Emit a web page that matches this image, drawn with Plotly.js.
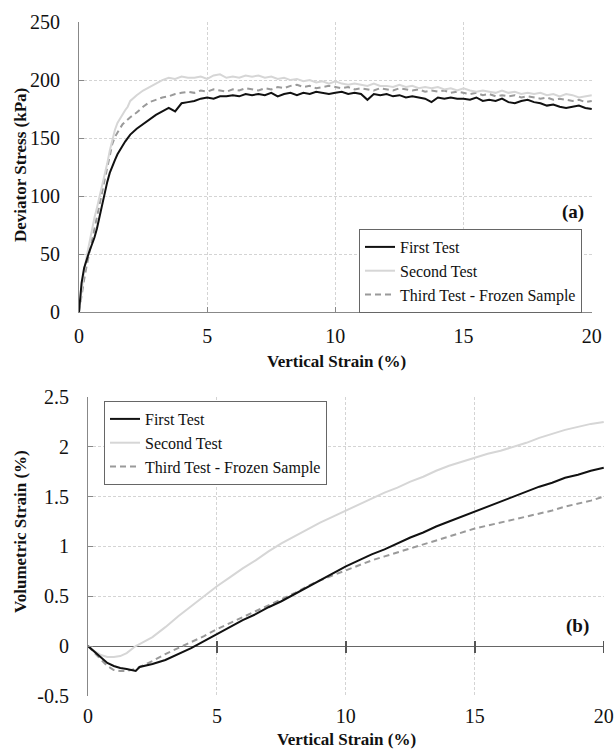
<!DOCTYPE html>
<html>
<head>
<meta charset="utf-8">
<script src="https://cdn.plot.ly/plotly-3.0.1.min.js"></script>
<style>html,body{margin:0;padding:0;background:#fff;}#chart{width:616px;height:751px;}</style>
</head>
<body>
<div id="chart"></div>
<script>
// ---------- Data: (a) deviator stress vs vertical strain ----------
const strainA = [0,0.1,0.2,0.3,0.4,0.5,0.6,0.7,0.8,0.9,1.0,1.1,1.2,1.3,1.4,1.5,1.6,1.7,1.8,1.9,2.0,
  2.25,2.5,2.75,3.0,3.25,3.5,3.75,4.0,4.25,4.5,4.75,5.0,5.25,5.5,5.75,6.0,6.25,6.5,6.75,7.0,7.25,7.5,7.75,
  8.0,8.25,8.5,8.75,9.0,9.25,9.5,9.75,10.0,10.25,10.5,10.75,11.0,11.25,11.5,11.75,12.0,12.25,12.5,12.75,
  13.0,13.25,13.5,13.75,14.0,14.25,14.5,14.75,15.0,15.25,15.5,15.75,16.0,16.25,16.5,16.75,17.0,17.25,17.5,17.75,
  18.0,18.25,18.5,18.75,19.0,19.25,19.5,19.75,20.0];
const stressFirst = [0,25,38,46,52,58,64,72,82,93,103,112,120,126,131,136,140,144,147,150,153,
  158,162,166,170,173,176,173,180,181,182,184,185,184,186,186,187,186,188,187,188,187,189,186,
  188,189,187,189,188,190,189,188,189,190,188,189,188,183,188,187,188,186,187,185,
  186,185,184,181,185,184,185,184,184,183,185,182,183,182,184,181,180,182,183,181,
  180,178,179,177,176,177,178,176,175];
const stressSecond = [0,20,36,48,60,72,81,90,99,108,117,128,139,149,157,163,167,171,174,177,182,
  187,191,194,197,200,202,201,203,202,202,203,201,204,205,202,203,202,204,203,204,202,203,201,
  202,200,201,199,200,198,199,197,199,197,196,197,196,195,197,195,195,194,196,194,
  195,193,194,193,194,192,193,191,193,191,190,191,190,189,191,189,190,188,189,188,
  189,187,188,186,188,187,185,186,187];
const stressThird = [0,15,28,40,50,60,70,80,91,103,114,124,133,145,151,155,159,162,164,166,168,
  172,177,181,183,185,186,188,189,190,189,191,190,192,191,190,192,191,193,192,191,193,192,194,
  193,195,196,194,195,193,194,195,194,193,194,192,193,192,191,193,192,191,193,192,
  191,192,190,191,190,191,189,190,189,188,189,187,188,186,187,186,187,185,186,185,
  184,185,183,184,183,182,183,181,182];

// ---------- Data: (b) volumetric strain vs vertical strain ----------
const strainB = [0,0.25,0.5,0.75,1,1.25,1.5,1.75,1.85,2,2.5,3,3.5,4,4.5,5,5.5,6,6.5,7,7.5,8,8.5,9,9.5,10,
  10.5,11,11.5,12,12.5,13,13.5,14,14.5,15,15.5,16,16.5,17,17.5,18,18.5,19,19.5,20];
const volFirst = [0,-0.06,-0.12,-0.17,-0.2,-0.22,-0.23,-0.24,-0.25,-0.21,-0.18,-0.14,-0.08,-0.02,0.05,0.12,0.19,0.26,0.32,0.39,0.45,0.52,0.59,0.66,0.73,0.8,
  0.86,0.92,0.97,1.03,1.09,1.14,1.2,1.25,1.3,1.35,1.4,1.45,1.5,1.55,1.6,1.64,1.69,1.72,1.76,1.79];
const volSecond = [0,-0.05,-0.09,-0.11,-0.11,-0.1,-0.07,-0.02,0,0.02,0.09,0.19,0.3,0.4,0.5,0.6,0.69,0.78,0.86,0.95,1.03,1.1,1.17,1.24,1.3,1.36,
  1.42,1.48,1.54,1.59,1.65,1.7,1.76,1.81,1.85,1.89,1.93,1.96,2.0,2.04,2.09,2.13,2.17,2.2,2.23,2.25];
const volThird = [0,-0.07,-0.14,-0.2,-0.24,-0.25,-0.25,-0.24,-0.23,-0.21,-0.15,-0.08,-0.02,0.04,0.1,0.17,0.23,0.29,0.35,0.41,0.47,0.53,0.6,0.66,0.71,0.76,
  0.81,0.86,0.9,0.94,0.98,1.02,1.06,1.1,1.14,1.18,1.21,1.24,1.27,1.3,1.33,1.36,1.4,1.43,1.46,1.5];

const seriesNames = ['First Test','Second Test','Third Test - Frozen Sample'];
const ticksA_x = [0,5,10,15,20];
const ticksA_y = [0,50,100,150,200,250];
const ticksB_y = [-0.5,0,0.5,1,1.5,2,2.5];
const ticksB_ytext = ['-0.5','0','0.5','1','1.5','2','2.5'];

// ---------- Styles ----------
const W = 616, H = 751;
const serif = 'Liberation Serif';
const styles = [
  {color:'#111111', width:2, dash:'solid'},
  {color:'#d6d6d6', width:2, dash:'solid'},
  {color:'#9a9a9a', width:2, dash:'6px,4px'}
];
const px = (v) => v / W;
const py = (v) => 1 - v / H;

const traces = [];
[stressFirst, stressSecond, stressThird].forEach((ys, i) => {
  traces.push({x: strainA, y: ys, type:'scatter', mode:'lines', name: seriesNames[i],
    line: styles[i], xaxis:'x', yaxis:'y', legend:'legend', legendrank: i + 1, hoverinfo:'skip'});
});
[volFirst, volSecond, volThird].forEach((ys, i) => {
  traces.push({x: strainB, y: ys, type:'scatter', mode:'lines', name: seriesNames[i],
    line: styles[i], xaxis: i === 0 ? 'x3' : 'x2', yaxis:'y2', legend:'legend2', legendrank: i + 1, hoverinfo:'skip'});
});
// draw black last so it lies on top
const order = [2,1,0,5,4,3];
const drawTraces = order.map(k => traces[k]);

const gridStyle = {showgrid:true, gridcolor:'#d4d4d4', griddash:'3px,2px', gridwidth:1};
const tickFont = {family: serif, size: 20, color:'#111'};

function note(text, x, y, angle, size) {
  return {text: text, xref:'paper', yref:'paper', x: px(x), y: py(y), xanchor:'center', yanchor:'middle',
    textangle: angle || 0, showarrow:false, font:{family: serif, size: size || 17, color:'#111'}};
}
const legendStyle = {
  xanchor:'left', yanchor:'top', xref:'paper', yref:'paper',
  bgcolor:'#fff', bordercolor:'#666', borderwidth:1,
  font:{family: serif, size:16, color:'#111'}, traceorder:'normal', itemwidth:30, tracegroupgap:0
};

const layout = {
  width: W, height: H,
  margin: {l:0, r:0, t:0, b:0},
  paper_bgcolor:'#fff', plot_bgcolor:'#fff',
  font: {family: serif},
  showlegend: true,
  xaxis: Object.assign({
    domain:[px(79), px(592)], range:[0,20.01], anchor:'y',
    tickvals: ticksA_x, ticks:'inside', ticklen:5, tickcolor:'#888',
    showline:true, linecolor:'#888', linewidth:1, zeroline:false,
    tickfont: tickFont, ticklabelstandoff: 6
  }, gridStyle),
  yaxis: Object.assign({
    domain:[py(312), py(22)], range:[0,250.1], anchor:'x',
    tickvals: ticksA_y, ticks:'inside', ticklen:5, tickcolor:'#888',
    showline:true, linecolor:'#888', linewidth:1, zeroline:false,
    tickfont: tickFont, ticklabelstandoff: 14
  }, gridStyle),
  xaxis2: Object.assign({
    domain:[px(88), px(604)], range:[0,20.01], anchor:'y2',
    tickvals: ticksA_x, ticks:'', showline:false, zeroline:false,
    tickfont: tickFont, ticklabelstandoff: 6
  }, gridStyle),
  xaxis3: {
    overlaying:'x2', anchor:'free', position: py(646) + 6 / H, range:[0,20.01],
    tickvals: ticksA_x.slice(1), ticks:'outside', ticklen:12, tickcolor:'#555', tickwidth:1.5,
    showline:false, showgrid:false, zeroline:false, showticklabels:false
  },
  yaxis2: Object.assign({
    domain:[py(696), py(397)], range:[-0.501,2.5], anchor:'x2',
    tickvals: ticksB_y, ticktext: ticksB_ytext, ticks:'inside', ticklen:5, tickcolor:'#888',
    showline:true, linecolor:'#888', linewidth:1,
    zeroline:true, zerolinecolor:'#666', zerolinewidth:1,
    tickfont: tickFont, ticklabelstandoff: 14
  }, gridStyle),
  legend: Object.assign({x: px(359), y: py(229)}, legendStyle),
  legend2: Object.assign({x: px(104), y: py(401)}, legendStyle),
  annotations: [
    note('<b>Vertical Strain (%)</b>', 336, 361),
    note('<b>Vertical Strain (%)</b>', 346, 739),
    note('<b>Deviator Stress (kPa)</b>', 20, 165, -90),
    note('<b>Volumetric Strain (%)</b>', 20, 532, -90),
    note('<b>(a)</b>', 573, 212, 0, 19),
    note('<b>(b)</b>', 577, 626, 0, 19)
  ]
};

Plotly.newPlot('chart', drawTraces, layout, {staticPlot:true, displayModeBar:false});
</script>
</body>
</html>
